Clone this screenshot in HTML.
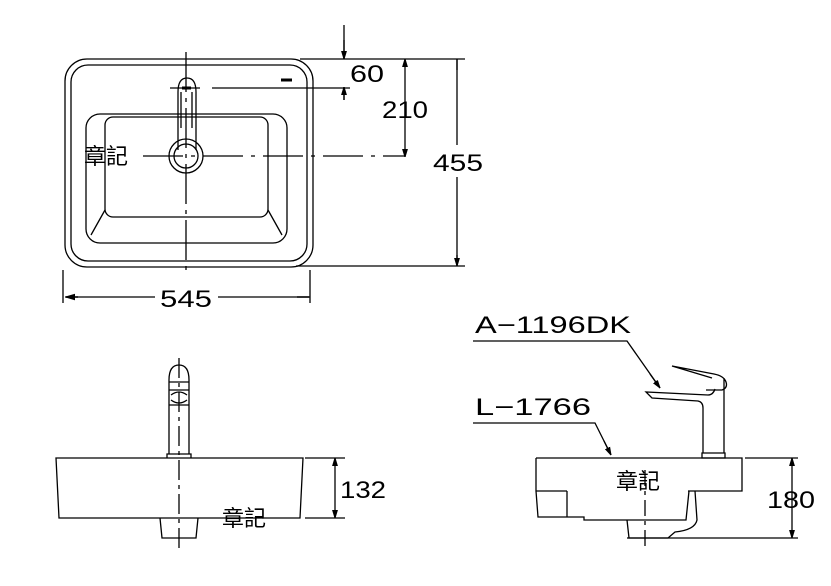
<!DOCTYPE html>
<html><head><meta charset="utf-8"><style>
html,body{margin:0;padding:0;background:#fff;width:831px;height:586px;overflow:hidden}
text{font-family:"Liberation Sans",sans-serif;fill:#000}
.cj{font-family:"Liberation Sans","Noto Sans CJK TC",sans-serif}
</style></head><body>
<svg width="831" height="586" viewBox="0 0 831 586" xmlns="http://www.w3.org/2000/svg" fill="none" stroke="#000" stroke-width="1.3">
<defs><marker id="a" viewBox="0 0 10 10" refX="10" refY="5" markerWidth="6" markerHeight="10" orient="auto-start-reverse"><path d="M0,2 L10,5 L0,8z" fill="#000"/></marker></defs>
<!-- top view -->
<rect x="65" y="59" width="248" height="208" rx="22"/>
<rect x="71" y="65" width="236" height="196" rx="17"/>
<rect x="86" y="114" width="201" height="129" rx="14"/>
<rect x="105" y="117" width="163" height="100" rx="8"/>
<path d="M105 210 L91 235 M268 210 L282 235"/>
<path d="M281 80h11" stroke-width="3"/>
<path d="M178 150 V92 q0-14 9-14 q9 0 9 14 V150"/>
<path d="M181 128 V92 M192 128 V92"/>
<path d="M182 88h9" stroke-width="3"/>
<circle cx="186" cy="156" r="17"/><circle cx="186" cy="156" r="12"/>
<path d="M186 52 V272" stroke-dasharray="40 6 4 6"/>
<path d="M143 156 H405" stroke-dasharray="40 8 4 8"/>
<path d="M170 88 H200 M212 88 H350" />
<path d="M300 59 H465 M296 266 H465"/>
<path d="M63 270 V303 M310 270 V303"/>
<path d="M65 297 H155 M218 297 H310"/>
<path d="M66 297h12 M309 297h-12" marker-start="url(#a)" stroke-width="1.5"/>
<path d="M344 25 V59 M344 87 V100" />
<path d="M344 40 V59" marker-end="url(#a)"/><path d="M344 100 V87" marker-end="url(#a)"/>
<path d="M405 59 V157" marker-start="url(#a)" marker-end="url(#a)"/>
<path d="M457 59 V145 M457 177 V266" />
<path d="M457 70 V59 M457 255 V266" marker-end="url(#a)"/>
<g stroke="none">
<text x="350" y="82" font-size="24" textLength="34" lengthAdjust="spacingAndGlyphs">60</text>
<text x="382" y="118" font-size="24" textLength="46" lengthAdjust="spacingAndGlyphs">210</text>
<text x="433" y="171" font-size="24" textLength="50" lengthAdjust="spacingAndGlyphs">455</text>
<text x="160" y="307" font-size="24" textLength="52" lengthAdjust="spacingAndGlyphs">545</text>
<text class="cj" x="84" y="164" font-size="22">章記</text>
</g>
<!-- side view left -->
<path d="M56 458 H303 L300 518 H59 Z"/>
<path d="M160 518 L162 538 H196 L198 518"/>
<path d="M179 358 V552" stroke-dasharray="20 5 4 5"/>
<path d="M169 454 V380 q0-15 10-15 q10 0 10 15 V454"/>
<path d="M167 458 V454 H191 V458"/>
<path d="M169 382 H189 M169 390 H189 M171 395 q8 -6 16 0 M171 400 q8 6 16 0 M169 405 H189"/>
<path d="M305 458 H345 M305 518 H345"/>
<path d="M335 458 V518" marker-start="url(#a)" marker-end="url(#a)"/>
<g stroke="none">
<text x="340" y="498" font-size="24" textLength="46" lengthAdjust="spacingAndGlyphs">132</text>
<text class="cj" x="222" y="526" font-size="22">章記</text>
</g>
<!-- side view right -->
<path d="M536 458 H742 V491 H688 M567 491 H536 V458 M536 491 L538 517 H567 V491 M567 517 V491 M567 517 H584 V520 H686 L689 491"/>
<path d="M695 491 L697 520 Q695 530 675 532 L668 538 H629 L627 520"/>
<path d="M627 538 H798 M745 458 H798"/>
<path d="M645 470 V550" stroke-dasharray="16 5 4 5"/>
<path d="M703 453 V408 q0-6 -5-7 L652 398 L646 392 L708 395 q5 0 7-6 M724 453 V378 M706 390 L722 390 q6-2 4-8 q-2-6 -12-8 L672 366 L712 378"/>
<path d="M702 458 H725 V453 H702 Z"/>
<path d="M792 458 V538" marker-start="url(#a)" marker-end="url(#a)"/>
<path d="M473 341 H627 L660 388" />
<path d="M650 374 L660 388" marker-end="url(#a)"/>
<path d="M473 423 H595 L611 455"/>
<path d="M604 441 L611 455" marker-end="url(#a)"/>
<g stroke="none">
<text x="475" y="333" font-size="24" textLength="156" lengthAdjust="spacingAndGlyphs">A−1196DK</text>
<text x="475" y="415" font-size="24" textLength="116" lengthAdjust="spacingAndGlyphs">L−1766</text>
<text x="767" y="508" font-size="24" textLength="48" lengthAdjust="spacingAndGlyphs">180</text>
<text class="cj" x="616" y="489" font-size="22">章記</text>
</g>
</svg>
</body></html>
